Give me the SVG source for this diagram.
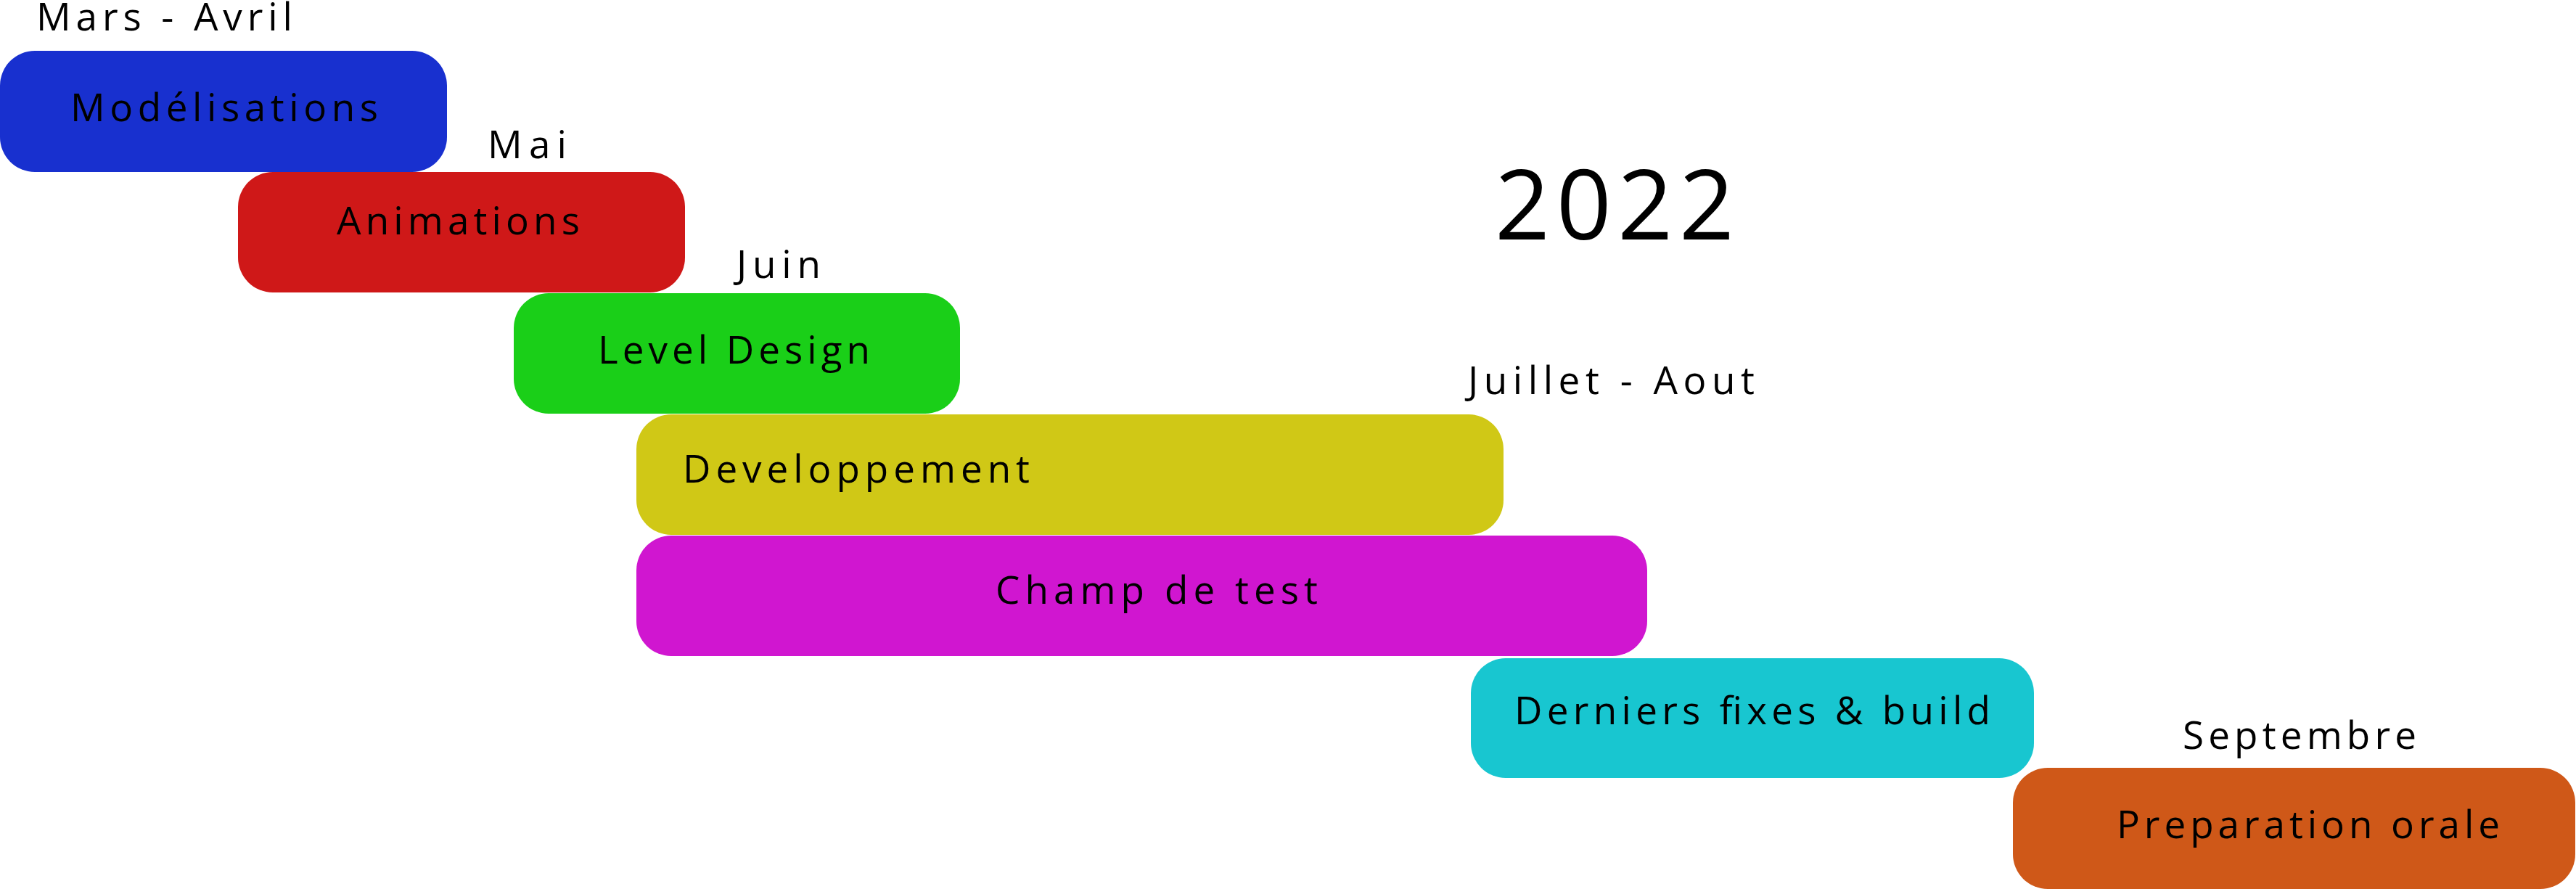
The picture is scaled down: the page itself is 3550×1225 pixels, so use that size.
<svg xmlns="http://www.w3.org/2000/svg" width="3550" height="1225" viewBox="0 0 3550 1225">
<style>
text{font-family:"Open Sans","Noto Sans",sans-serif;font-size:53px;fill:#000}
.box{rx:48px;ry:48px}
.year{font-size:133px}
</style>
<rect width="3550" height="1225" fill="#fff"/>
<text x="50" y="42" textLength="353" lengthAdjust="spacing">Mars - Avril</text>
<text x="672" y="218" textLength="109" lengthAdjust="spacing">Mai</text>
<text x="1015" y="383" textLength="116" lengthAdjust="spacing">Juin</text>
<text x="2023" y="543" textLength="395" lengthAdjust="spacing">Juillet - Aout</text>
<text x="3008" y="1032" textLength="322" lengthAdjust="spacing">Septembre</text>
<text class="year" x="2060" y="330" textLength="330" lengthAdjust="spacing">2022</text>
<g id="modelisations">
<rect class="box" x="0" y="70" width="616" height="167" rx="48" fill="#1830CF"/>
<text x="97" y="167" textLength="424" lengthAdjust="spacing">Modélisations</text>
</g>
<g id="animations">
<rect class="box" x="328" y="237" width="616" height="166" rx="48" fill="#CF1818"/>
<text x="464" y="323" textLength="335" lengthAdjust="spacing">Animations</text>
</g>
<g id="level-design">
<rect class="box" x="708" y="404" width="615" height="166" rx="48" fill="#1ACF18"/>
<text x="824" y="501" textLength="375" lengthAdjust="spacing">Level Design</text>
</g>
<g id="developpement">
<rect class="box" x="877" y="571" width="1195" height="166" rx="48" fill="#D0C816"/>
<text x="941" y="665" textLength="478" lengthAdjust="spacing">Developpement</text>
</g>
<g id="champ-de-test">
<rect class="box" x="877" y="738" width="1393" height="166" rx="48" fill="#D016D0"/>
<text x="1372" y="832" textLength="444" lengthAdjust="spacing">Champ de test</text>
</g>
<g id="derniers-fixes">
<rect class="box" x="2027" y="907" width="776" height="165" rx="48" fill="#18C6D0"/>
<text x="2087" y="998" textLength="656" lengthAdjust="spacing">Derniers fixes &amp; build</text>
</g>
<g id="preparation-orale">
<rect class="box" x="2774" y="1058" width="775" height="167" rx="48" fill="#CF5818"/>
<text x="2917" y="1155" textLength="528" lengthAdjust="spacing">Preparation orale</text>
</g>
<g id="connectors"></g>
</svg>
